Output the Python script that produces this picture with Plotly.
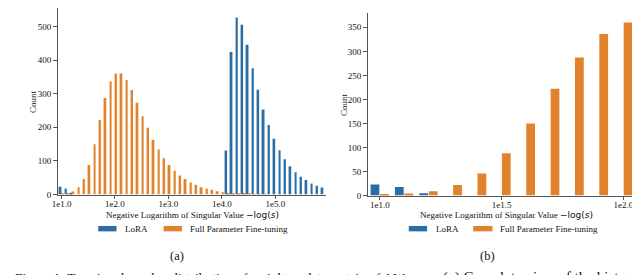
import plotly.graph_objects as go

# ---- data ----
bins = [1.0, 1.1, 1.2, 1.3, 1.4, 1.5, 1.6, 1.7, 1.8, 1.9,
        2.0, 2.1, 2.2, 2.3, 2.4, 2.5, 2.6, 2.7, 2.8, 2.9,
        3.0, 3.1, 3.2, 3.3, 3.4, 3.5, 3.6, 3.7, 3.8, 3.9,
        4.0, 4.1, 4.2, 4.3, 4.4, 4.5, 4.6, 4.7, 4.8, 4.9,
        5.0, 5.1, 5.2, 5.3, 5.4, 5.5, 5.6, 5.7, 5.8, 5.9]
lora_counts = [23, 18, 5, 0, 0, 0, 0, 0, 0, 0,
               0, 0, 0, 0, 0, 0, 0, 0, 0, 0,
               0, 0, 0, 0, 0, 0, 0, 0, 0, 0,
               0, 131, 424, 527, 505, 446, 376, 312, 253, 207,
               166, 132, 105, 84, 66, 53, 43, 33, 26, 21]
full_counts = [2, 4, 9, 22, 46, 88, 150, 222, 287, 336,
               360, 360, 341, 311, 273, 233, 199, 163, 134, 108,
               88, 71, 57, 46, 36, 29, 22, 18, 14, 10,
               7, 5, 4, 3, 2, 2, 1, 1, 1, 0,
               0, 0, 0, 0, 0, 0, 0, 0, 0, 0]
zoom_n = 11  # panel (b) shows first 11 bins
ticks_a = [1, 2, 3, 4, 5]
ticklabels_a = ["1e1.0", "1e2.0", "1e3.0", "1e4.0", "1e5.0"]
ticks_b = [1.0, 1.5, 2.0]
ticklabels_b = ["1e1.0", "1e1.5", "1e2.0"]
series_names = ["LoRA", "Full Parameter Fine-tuning"]

BLUE = "#2b6ea5"
ORANGE = "#e3822d"
W, H = 640, 275
SERIF = "Liberation Serif"
FS = 9


def px(x):
    return x / W


def py(y):
    return 1 - y / H


fig = go.Figure()
bw = 0.036
for xs, ys_l, ys_f, xa, ya in [
    (bins, lora_counts, full_counts, "x", "y"),
    (bins[:zoom_n], lora_counts[:zoom_n], full_counts[:zoom_n], "x2", "y2"),
]:
    fig.add_trace(go.Bar(x=xs, y=ys_l, name=series_names[0], marker_color=BLUE,
                         width=bw, offset=-0.038, xaxis=xa, yaxis=ya,
                         marker_line_width=0, showlegend=False))
    fig.add_trace(go.Bar(x=xs, y=ys_f, name=series_names[1], marker_color=ORANGE,
                         width=bw, offset=0.001, xaxis=xa, yaxis=ya,
                         marker_line_width=0, showlegend=False))

axis_common = dict(showline=True, linecolor="#555", linewidth=1, ticks="outside",
                   ticklen=3.5, tickwidth=1, tickcolor="#555", showgrid=False,
                   zeroline=False, tickfont=dict(family=SERIF, size=FS, color="#111"))

fig.update_layout(
    width=W, height=H, margin=dict(l=0, r=0, t=0, b=0),
    paper_bgcolor="white", plot_bgcolor="white", barmode="overlay",
    xaxis=dict(domain=[px(44), px(315)], range=[0.926, 5.95], anchor="y",
               tickvals=ticks_a, ticktext=ticklabels_a, ticklabelstandoff=-3,
               **axis_common),
    yaxis=dict(domain=[py(190), py(0)], range=[0, 555], anchor="x",
               tickvals=[0, 100, 200, 300, 400, 500], **axis_common),
    xaxis2=dict(domain=[px(357), px(628)], range=[0.95, 2.052], anchor="y2",
                tickvals=ticks_b, ticktext=ticklabels_b, ticklabelstandoff=-3,
                **axis_common),
    yaxis2=dict(domain=[py(191), py(5)], range=[0, 380], anchor="x2",
                tickvals=[0, 50, 100, 150, 200, 250, 300, 350], **axis_common),
)

xtitle = ("Negative Logarithm of Singular Value "
          "<span style='font-family:DejaVu Sans'>−log(<i>s</i>)</span>")
ann = []


def text(x, y, s, size=FS, xanchor="center", angle=0):
    ann.append(dict(x=px(x), y=py(y), xref="paper", yref="paper", text=s,
                    showarrow=False, xanchor=xanchor, yanchor="middle",
                    textangle=angle,
                    font=dict(family=SERIF, size=size, color="#111")))


# axis titles
text(180, 211, xtitle)
text(497, 211, xtitle)
text(19, 95, "Count", angle=-90)
text(333, 98, "Count", angle=-90)

# legends
shapes = []
for (bx0, bx1, ox0, ox1, lt, ft) in [(85, 103.5, 151, 169.5, 110.5, 176),
                                     (398.5, 417, 463.5, 483, 423.5, 488.5)]:
    shapes.append(dict(type="rect", xref="paper", yref="paper", x0=px(bx0), x1=px(bx1),
                       y0=py(227.5), y1=py(222), fillcolor=BLUE, line_width=0))
    shapes.append(dict(type="rect", xref="paper", yref="paper", x0=px(ox0), x1=px(ox1),
                       y0=py(227.5), y1=py(222), fillcolor=ORANGE, line_width=0))
    text(lt, 225, series_names[0], xanchor="left")
    text(ft, 225, series_names[1], xanchor="left")

# sub-captions
text(165, 253, "(a)", size=12.5)
text(478, 253, "(b)", size=12.5)
# figure caption (cut off at bottom)
text(-1, 274, "Figure 1: Top singular value distribution of weight update matrix of Δ<i>W</i>",
     size=13.5, xanchor="left")
text(431, 274, "(a) Complete view of the histogram. (b) Zoomed view of the histogram.",
     size=15, xanchor="left")

fig.update_layout(annotations=ann, shapes=shapes)
fig.write_html("out.html")
